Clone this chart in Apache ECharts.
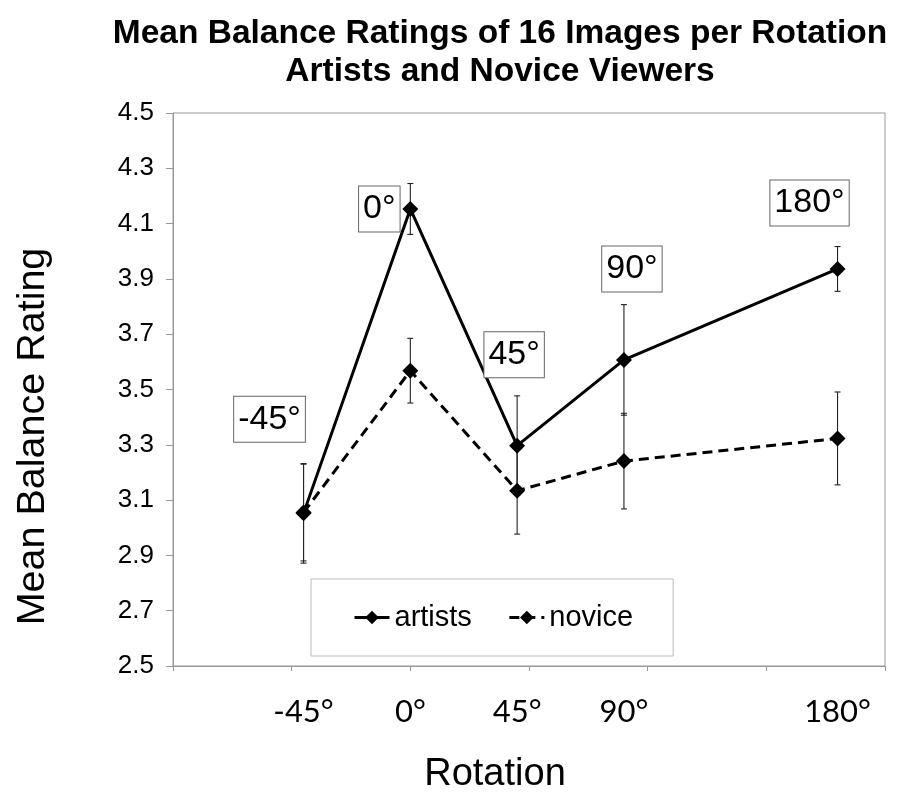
<!DOCTYPE html>
<html>
<head>
<meta charset="utf-8">
<script src="https://cdn.jsdelivr.net/npm/echarts@6/dist/echarts.min.js"></script>
<style>html,body{margin:0;padding:0;background:#fff;}#c{width:907px;height:796px;}</style>
</head>
<body>
<div id="c"></div>
<script>
// ---- data ----
const rotations = [-45, 0, 45, 90, 180];
const rotationLabels = ['-45°', '0°', '45°', '90°', '180°'];
const artistsMean = [3.052, 4.153, 3.297, 3.607, 3.936];
const artistsErr  = [0.180, 0.092, 0.180, 0.200, 0.081];
const noviceMean  = [3.055, 3.568, 3.134, 3.241, 3.323];
const noviceErr   = [0.175, 0.117, 0.157, 0.173, 0.168];
const xTickValues = [-100, -50, 0, 50, 100, 150, 200];
const yTickValues = [2.5, 2.7, 2.9, 3.1, 3.3, 3.5, 3.7, 3.9, 4.1, 4.3, 4.5];

// annotation label offsets (pixels, style only)
const annotOffsets = [[-34, -94], [-31, 0], [-3, -91], [8, -91], [-28, -66]];

const sans = '"Liberation Sans", Arial, sans-serif';
const human = 'Lato, "Open Sans", sans-serif';

function pairs(xs, ys) { return xs.map((x, i) => [x, ys[i]]); }
function errData(xs, m, e) { return xs.map((x, i) => [x, m[i] - e[i], m[i] + e[i]]); }

function errRender(params, api) {
  const x = api.value(0), lo = api.value(1), hi = api.value(2);
  const a = api.coord([x, lo]), b = api.coord([x, hi]);
  const w = 3;
  const st = { stroke: '#222', lineWidth: 1.1 };
  return { type: 'group', children: [
    { type: 'line', shape: { x1: b[0], y1: b[1], x2: a[0], y2: a[1] }, style: st },
    { type: 'line', shape: { x1: b[0] - w, y1: b[1], x2: b[0] + w, y2: b[1] }, style: st },
    { type: 'line', shape: { x1: a[0] - w, y1: a[1], x2: a[0] + w, y2: a[1] }, style: st }
  ]};
}

const artistsData = rotations.map((x, i) => ({
  value: [x, artistsMean[i]],
  label: {
    show: true,
    position: 'inside',
    offset: annotOffsets[i],
    formatter: rotationLabels[i],
    fontFamily: sans, fontSize: 34, color: '#000',
    backgroundColor: '#fff', borderColor: '#666', borderWidth: 1,
    padding: [3, 4, 2, 4], lineHeight: 40
  }
}));

const chart = echarts.init(document.getElementById('c'), null, { renderer: 'canvas' });
chart.setOption({
  animation: false,
  backgroundColor: '#fff',
  title: {
    text: 'Mean Balance Ratings of 16 Images per Rotation\nArtists and Novice Viewers',
    left: 500, top: 15, textAlign: 'center', padding: 0,
    textStyle: { fontFamily: sans, fontWeight: 'bold', fontSize: 33.5, lineHeight: 38, color: '#000' }
  },
  legend: {
    left: 311, top: 579,
    padding: [24, 40, 24, 42],
    itemGap: 36, itemWidth: 35, itemHeight: 17,
    borderColor: '#bbb', borderWidth: 1, backgroundColor: '#fff',
    lineStyle: { width: 3 },
    textStyle: { fontFamily: sans, fontSize: 29, color: '#000' },
    data: ['artists', 'novice']
  },
  grid: { left: 173, right: 22, top: 113, bottom: 130, show: true, borderColor: '#999', borderWidth: 1,
    outerBoundsMode: 'none', containLabel: false },
  xAxis: {
    type: 'value', min: -100, max: 200,
    name: 'Rotation', nameLocation: 'middle', nameGap: 90,
    nameTextStyle: { fontFamily: sans, fontSize: 38, color: '#000', padding: [0, 68, 0, 0] },
    axisLine: { onZero: false, lineStyle: { color: '#999', width: 1 } },
    axisTick: { show: true, length: 5, customValues: xTickValues, lineStyle: { color: '#999' } },
    axisLabel: { customValues: rotations, formatter: v => rotationLabels[rotations.indexOf(v)] || '',
      fontFamily: human, fontSize: 31, color: '#000', margin: 30 },
    splitLine: { show: false }
  },
  yAxis: {
    type: 'value', min: 2.5, max: 4.5,
    name: 'Mean Balance Rating', nameLocation: 'middle', nameGap: 120,
    nameTextStyle: { fontFamily: sans, fontSize: 39.5, color: '#000', padding: [0, 94, 0, 0] },
    axisLine: { show: true, onZero: false, lineStyle: { color: '#999', width: 1 } },
    axisTick: { show: true, length: 7, customValues: yTickValues, lineStyle: { color: '#999' } },
    axisLabel: { customValues: yTickValues, formatter: v => v.toFixed(1),
      fontFamily: sans, fontSize: 26, color: '#000', margin: 19 },
    splitLine: { show: false }
  },
  series: [
    { name: 'artistsErr', type: 'custom', renderItem: errRender, data: errData(rotations, artistsMean, artistsErr),
      encode: { x: 0, y: [1, 2] }, z: 1, silent: true },
    { name: 'noviceErr', type: 'custom', renderItem: errRender, data: errData(rotations, noviceMean, noviceErr),
      encode: { x: 0, y: [1, 2] }, z: 1, silent: true },
    { name: 'novice', type: 'line', data: pairs(rotations, noviceMean), symbol: 'diamond', symbolSize: 16,
      itemStyle: { color: '#000' }, lineStyle: { color: '#000', width: 3, type: [10, 6] }, z: 3 },
    { name: 'artists', type: 'line', data: artistsData, symbol: 'diamond', symbolSize: 16,
      itemStyle: { color: '#000' }, lineStyle: { color: '#000', width: 3 }, z: 4 }
  ]
});
</script>
</body>
</html>
